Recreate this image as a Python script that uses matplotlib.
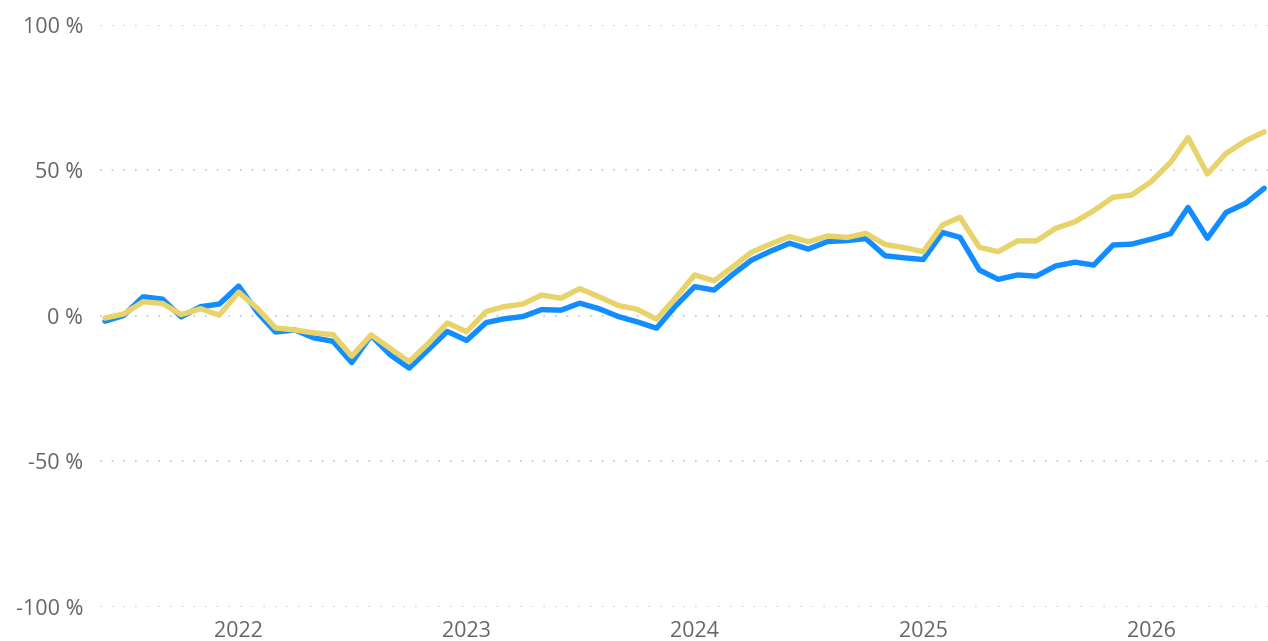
import matplotlib
matplotlib.use("Agg")
import matplotlib.pyplot as plt
import pandas as pd

months = pd.date_range("2021-06-01", periods=62, freq="MS")

series_blue = [-1.8, 0.2, 6.6, 5.8, -0.3, 3.2, 4.1, 10.3, 1.0, -5.5,
               -4.8, -7.5, -8.7, -16.0, -6.7, -13.4, -17.9, -11.5, -5.3, -8.4,
               -2.3, -1.0, -0.2, 2.2, 2.0, 4.4, 2.5, -0.2, -2.0, -4.2,
               3.3, 10.1, 8.9, 14.1, 19.2, 22.2, 25.0, 23.0, 25.6, 25.9,
               26.6, 20.7, 20.0, 19.4, 28.7, 27.0, 15.8, 12.6, 14.1, 13.7,
               17.2, 18.5, 17.5, 24.4, 24.7, 26.4, 28.3, 37.3, 26.7, 35.6,
               38.7, 43.9]

series_yellow = [-0.7, 0.7, 4.9, 4.3, 0.5, 2.5, 0.3, 8.2, 2.4, -4.1,
                 -4.8, -5.8, -6.4, -13.8, -6.5, -11.2, -15.7, -9.3, -2.4, -5.4,
                 1.5, 3.2, 4.1, 7.2, 6.1, 9.4, 6.6, 3.6, 2.3, -1.1,
                 6.1, 14.1, 12.1, 16.7, 21.9, 24.7, 27.3, 25.5, 27.5, 27.0,
                 28.4, 24.6, 23.5, 22.1, 31.3, 33.9, 23.6, 22.1, 25.8, 25.8,
                 30.1, 32.4, 36.2, 40.8, 41.6, 46.2, 52.8, 61.3, 48.8, 55.9,
                 60.2, 63.3]

y_ticks = [-100, -50, 0, 50, 100]
year_ticks = ["2022", "2023", "2024", "2025", "2026"]

plt.rcParams['font.family'] = ['Open Sans', 'DejaVu Sans']

fig = plt.figure(figsize=(12.68, 6.41), dpi=100)
ax = fig.add_axes([100/1268, 1 - 607/641, 1 - 100/1268, (607-25)/641])

ax.plot(months, series_blue, color="#118DFF", lw=3.9, solid_joinstyle="round", solid_capstyle="round", zorder=3)
ax.plot(months, series_yellow, color="#E8D36A", lw=3.9, solid_joinstyle="round", solid_capstyle="round", zorder=4)

ax.set_ylim(-100, 100)
ax.set_yticks(y_ticks)
ax.set_yticklabels([f"{t} %" for t in y_ticks])
ax.set_xlim(pd.Timestamp("2021-05-24"), pd.Timestamp("2026-07-07"))
ax.set_xticks([pd.Timestamp(f"{y}-01-01") for y in year_ticks])
ax.set_xticklabels(year_ticks)

for t in y_ticks:
    ax.axhline(t, color="#c4c4c4", lw=1.2, linestyle=(0, (1, 6)), zorder=1)

for s in ax.spines.values():
    s.set_visible(False)
ax.tick_params(axis="both", length=0, labelsize=15.5, colors="#666666")
ax.tick_params(axis="y", pad=12)
ax.tick_params(axis="x", pad=10)
ax.set_facecolor("white")

fig.savefig("out.png", dpi=100, facecolor="white")
